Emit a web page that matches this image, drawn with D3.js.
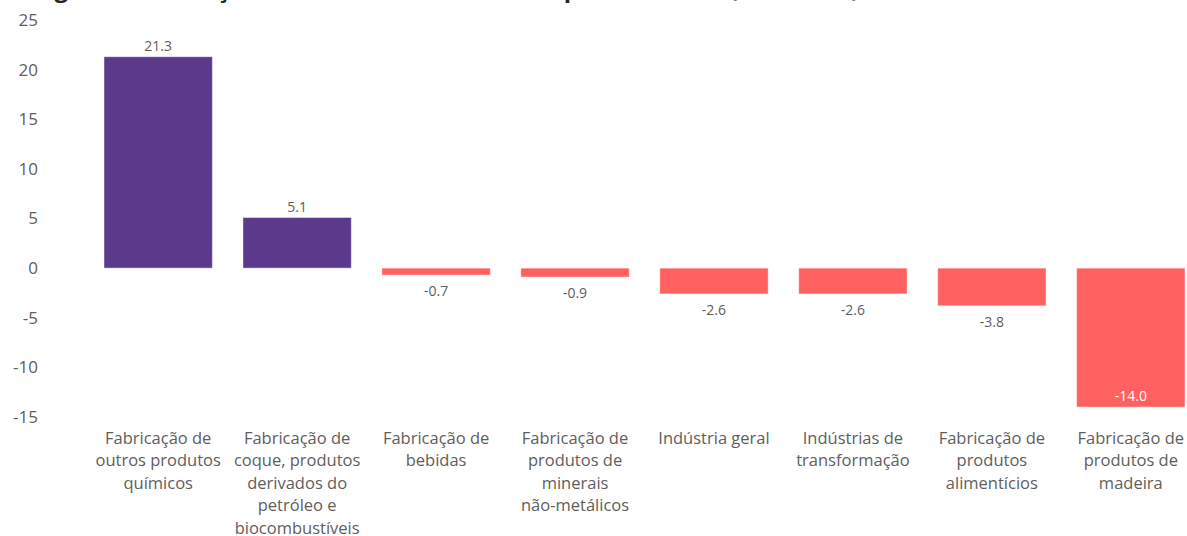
<!DOCTYPE html>
<html>
<head>
<meta charset="utf-8">
<script src="https://cdn.jsdelivr.net/npm/d3@7"></script>
<style>
  body { margin: 0; background: #fff; }
  text { font-family: "Segoe UI", "Open Sans", sans-serif; }
</style>
</head>
<body>
<div id="chart"></div>
<script>
// Values
var categories = [
  "Fabricação de outros produtos químicos",
  "Fabricação de coque, produtos derivados do petróleo e biocombustíveis",
  "Fabricação de bebidas",
  "Fabricação de produtos de minerais não-metálicos",
  "Indústria geral",
  "Indústrias de transformação",
  "Fabricação de produtos alimentícios",
  "Fabricação de produtos de madeira"
];
var labelLines = [
  ["Fabricação de", "outros produtos", "químicos"],
  ["Fabricação de", "coque, produtos", "derivados do", "petróleo e", "biocombustíveis"],
  ["Fabricação de", "bebidas"],
  ["Fabricação de", "produtos de", "minerais", "não-metálicos"],
  ["Indústria geral"],
  ["Indústrias de", "transformação"],
  ["Fabricação de", "produtos", "alimentícios"],
  ["Fabricação de", "produtos de", "madeira"]
];
var values = [21.3, 5.1, -0.7, -0.9, -2.6, -2.6, -3.8, -14.0];
var yTicks = [25, 20, 15, 10, 5, 0, -5, -10, -15];
var title = "Figura 3 – Variação acumulada em 12 meses por atividade (mar/2025)";

var width = 1187, height = 536;
var posColor = "#5B3A8C", negColor = "#FF6161";
var textColor = "#605E5C";

var svg = d3.select("#chart").append("svg")
  .attr("width", width)
  .attr("height", height);

// title is cut off by the top edge, only descenders show
svg.append("text")
  .attr("x", 34)
  .attr("y", -3)
  .style("font-size", "24px")
  .style("font-weight", "bold")
  .style("fill", "#252423")
  .text(title);

var x = d3.scaleBand()
  .domain(categories)
  .range([104, 1185])
  .paddingInner(0.22)
  .paddingOuter(0);

var y = d3.scaleLinear()
  .domain([-15, 25])
  .range([417, 20]);

// y axis, labels only
var yAxis = svg.append("g")
  .attr("transform", "translate(38,0)")
  .call(d3.axisLeft(y).tickValues(yTicks).tickSize(0).tickPadding(0)
    .tickFormat(function(d) { return String(d); }));
yAxis.select(".domain").remove();
yAxis.selectAll("text")
  .style("font-size", "17px")
  .style("fill", textColor);

// bars
svg.selectAll(".bar")
  .data(values)
  .enter().append("rect")
  .attr("class", "bar")
  .attr("x", function(d, i) { return x(categories[i]); })
  .attr("width", x.bandwidth())
  .attr("y", function(d) { return y(Math.max(0, d)); })
  .attr("height", function(d) { return Math.abs(y(d) - y(0)); })
  .attr("fill", function(d) { return d >= 0 ? posColor : negColor; })
  .attr("stroke", "rgba(255,255,255,0.45)")
  .attr("stroke-width", 1);

// value labels
svg.selectAll(".val")
  .data(values)
  .enter().append("text")
  .attr("class", "val")
  .attr("x", function(d, i) { return x(categories[i]) + x.bandwidth() / 2; })
  .attr("y", function(d) {
    if (d >= 0) return y(d) - 6;
    if (y(d) - y(0) > 60) return y(d) - 6;   // long bar: label inside
    return y(d) + 21;
  })
  .attr("text-anchor", "middle")
  .style("font-size", "14px")
  .style("fill", function(d) { return (y(d) - y(0) > 60) ? "#fff" : textColor; })
  .text(function(d) { return d.toFixed(1); });

// category labels
var cat = svg.selectAll(".cat")
  .data(labelLines)
  .enter().append("text")
  .attr("class", "cat")
  .attr("text-anchor", "middle")
  .style("font-size", "16.5px")
  .style("fill", textColor);

cat.selectAll("tspan")
  .data(function(d, i) { return d.map(function(l) { return {line: l, i: i}; }); })
  .enter().append("tspan")
  .attr("x", function(d) { return x(categories[d.i]) + x.bandwidth() / 2; })
  .attr("y", function(d, j) { return 444 + j * 22.4; })
  .text(function(d) { return d.line; });
</script>
</body>
</html>
